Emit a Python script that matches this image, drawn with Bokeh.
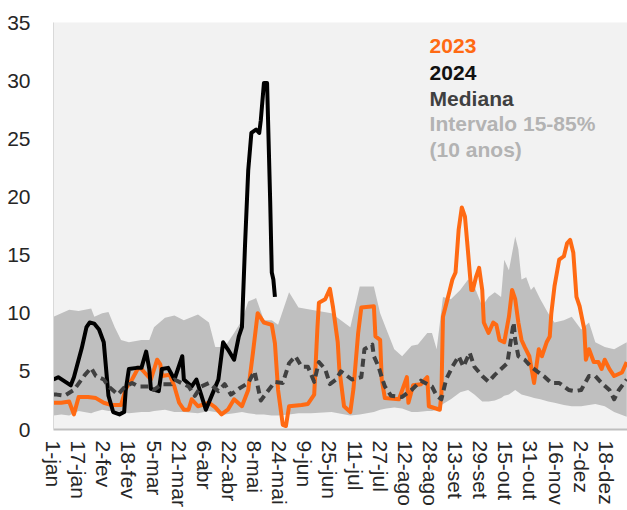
import math
from bokeh.plotting import figure
from bokeh.models import Range1d, FixedTicker, ColumnDataSource, Label
from bokeh.embed import file_html
from bokeh.resources import INLINE

# ---- data (day of year index, leap year: 0 = 1-jan) ----
tick_days = [0, 16, 32, 48, 64, 80, 96, 112, 128, 144, 160, 176, 192, 208,
             224, 240, 256, 272, 288, 304, 320, 336, 352]
tick_labels = ["1-jan", "17-jan", "2-fev", "18-fev", "5-mar", "21-mar", "6-abr",
               "22-abr", "8-mai", "24-mai", "9-jun", "25-jun", "11-jul", "27-jul",
               "12-ago", "28-ago", "13-set", "29-set", "15-out", "31-out",
               "16-nov", "2-dez", "18-dez"]

band_days = [0, 5, 10, 16, 24, 26, 31, 35, 39, 43, 48, 56, 61, 64, 71, 77, 83, 92,
             99, 103, 109, 115, 120, 124, 129, 134, 139, 143, 150, 156, 164, 177,
             189, 195, 204, 208, 212, 217, 222, 228, 232, 238, 241, 244, 248, 253,
             259, 264, 268, 273, 277, 281, 285, 287, 290, 294, 296, 298, 301, 304,
             306, 310, 315, 319, 325, 330, 336, 341, 345, 351, 357, 365]
band_hi = [9.7, 10.0, 10.3, 10.2, 10.4, 9.7, 10.0, 10.1, 8.8, 7.7, 7.5, 7.7, 7.7,
           8.8, 9.6, 9.8, 9.4, 9.9, 9.2, 7.1, 7.1, 8.3, 9.4, 11.0, 11.3, 9.4, 9.4,
           9.0, 11.8, 10.5, 10.3, 10.0, 8.8, 12.3, 12.3, 10.0, 8.6, 6.9, 6.3, 7.2,
           7.3, 8.3, 8.3, 6.9, 11.4, 11.2, 12.0, 12.9, 12.3, 10.6, 11.4, 11.8, 11.4,
           14.6, 13.7, 16.6, 15.5, 12.9, 13.1, 12.0, 12.3, 11.2, 10.0, 9.2, 9.4,
           9.7, 8.6, 9.2, 7.5, 7.1, 6.9, 7.5]
band_lo = [1.2, 1.3, 1.2, 1.6, 1.4, 1.5, 1.7, 1.6, 1.6, 1.5, 1.4, 1.5, 1.5, 1.6,
           1.7, 1.5, 1.5, 1.4, 1.6, 1.5, 1.3, 1.4, 1.5, 1.4, 1.3, 1.3, 1.2, 1.2,
           1.3, 1.4, 1.4, 1.5, 1.2, 1.3, 1.5, 1.7, 1.8, 1.9, 1.8, 1.5, 1.5, 1.6,
           1.6, 1.7, 2.2, 2.6, 3.2, 3.4, 3.0, 2.4, 2.4, 2.5, 2.7, 2.9, 3.0, 3.4,
           3.2, 3.0, 2.9, 2.8, 2.7, 2.6, 2.4, 2.3, 2.1, 2.0, 2.0, 2.1, 2.2, 2.0,
           1.5, 1.1]

d2023 = [0, 5, 10, 13, 16, 22, 27, 32, 37, 43, 46, 50, 54, 56, 62, 66, 68, 69, 74,
         77, 80, 83, 86, 88, 92, 99, 103, 107, 111, 115, 120, 124, 127, 130, 134,
         139, 141, 143, 146, 148, 150, 158, 162, 166, 168, 169, 173, 176, 178, 181,
         182, 185, 189, 191, 194, 196, 204, 205, 208, 209, 211, 220, 225, 226, 229,
         234, 238, 239, 246, 247, 248, 252, 254, 256, 258, 260, 262, 264, 266, 267,
         269, 271, 273, 274, 277, 280, 282, 284, 287, 290, 292, 294, 296, 298, 300,
         303, 306, 309, 311, 314, 316, 317, 319, 322, 325, 327, 329, 331, 333, 335,
         338, 339, 341, 344, 347, 349, 351, 354, 357, 362, 365]
v2023 = [2.3, 2.3, 2.4, 1.3, 2.8, 2.8, 2.7, 2.3, 2.1, 2.1, 3.5, 4.3, 5.3, 5.2, 4.3,
         6.0, 5.6, 4.6, 4.7, 3.7, 2.3, 1.7, 1.7, 2.6, 2.0, 2.3, 1.9, 1.3, 1.7, 2.6,
         2.0, 3.4, 6.6, 10.0, 9.2, 9.0, 7.4, 3.4, 0.4, 0.3, 2.0, 2.1, 2.2, 3.0, 8.6,
         10.9, 11.2, 12.1, 10.5, 7.5, 5.2, 2.0, 1.5, 3.5, 8.3, 10.5, 10.6, 8.0, 7.7,
         4.3, 2.7, 2.6, 4.5, 2.3, 3.8, 3.9, 4.5, 2.0, 1.7, 3.0, 9.7, 11.8, 12.9,
         13.5, 17.2, 19.1, 18.3, 15.2, 12.0, 12.0, 13.1, 13.9, 12.0, 9.2, 8.3, 9.2,
         9.0, 7.7, 7.5, 9.7, 12.0, 11.2, 9.2, 7.7, 7.1, 6.3, 4.0, 6.9, 6.3, 7.5, 8.0,
         10.0, 12.3, 14.6, 14.9, 16.0, 16.3, 15.2, 11.4, 10.6, 8.6, 6.0, 6.9, 5.8,
         5.8, 5.2, 6.0, 5.2, 4.6, 4.9, 5.8]

d2024 = [0, 3, 11, 13, 18, 21, 23, 26, 29, 32, 35, 38, 42, 45, 46, 48, 53, 56, 59,
         61, 62, 67, 69, 73, 77, 82, 83, 88, 91, 94, 97, 101, 105, 108, 111, 115,
         118, 120, 122, 124, 126, 129, 131, 132, 134, 136, 138, 139, 140, 141]
v2024 = [4.3, 4.5, 3.8, 4.5, 7.0, 8.8, 9.2, 9.1, 8.6, 7.5, 2.9, 1.5, 1.3, 1.5, 3.4,
         5.2, 5.3, 5.3, 6.7, 5.2, 3.5, 3.3, 5.2, 5.3, 4.3, 6.3, 4.3, 3.7, 4.3, 3.0,
         1.7, 3.0, 4.3, 7.5, 6.9, 6.0, 8.0, 8.8, 16.0, 22.3, 25.5, 25.8, 25.5, 26.6,
         29.8, 29.8, 19.5, 13.5, 12.9, 11.4]

dmed = [0, 2, 7, 13, 20, 24, 27, 32, 35, 41, 45, 50, 54, 61, 64, 69, 75, 77, 86,
        90, 94, 99, 105, 109, 113, 118, 124, 128, 132, 137, 141, 146, 150, 154, 158,
        162, 166, 169, 173, 176, 180, 183, 190, 196, 198, 203, 204, 207, 209, 211,
        215, 222, 228, 234, 241, 244, 247, 250, 254, 258, 261, 265, 268, 273, 277,
        281, 285, 289, 290, 293, 294, 296, 300, 304, 309, 313, 317, 322, 328, 332,
        336, 341, 345, 349, 354, 357, 360, 365]
vmed = [3.0, 3.0, 2.9, 3.4, 4.7, 5.3, 4.6, 4.3, 3.7, 3.0, 3.6, 4.0, 3.7, 3.7, 3.4,
        3.9, 3.9, 4.3, 3.7, 2.9, 3.7, 4.0, 3.3, 3.9, 3.0, 3.5, 4.0, 5.0, 2.5, 3.4,
        4.1, 4.0, 5.7, 6.3, 5.4, 5.4, 4.1, 5.8, 5.2, 3.9, 4.3, 5.0, 4.3, 4.5, 6.9,
        7.3, 6.3, 5.4, 4.5, 3.7, 2.9, 2.8, 3.4, 4.2, 3.7, 2.9, 2.6, 4.3, 5.4, 6.3,
        5.4, 6.6, 5.4, 4.6, 4.1, 4.7, 5.2, 5.7, 6.6, 9.2, 7.7, 6.3, 6.0, 5.4, 4.9,
        4.5, 4.0, 4.0, 3.4, 3.3, 3.4, 4.6, 4.6, 4.0, 3.4, 2.6, 3.4, 4.3]

legend_items = ["2023", "2024", "Mediana", "Intervalo 15-85%", "(10 anos)"]
legend_colors = ["#FF6A13", "#111111", "#404040", "#B3B3B3", "#B3B3B3"]
legend_y = [33.0, 30.7, 28.5, 26.3, 24.1]

# ---- figure ----
FONT = "Liberation Sans"
p = figure(width=627, height=510, output_backend="svg", toolbar_location=None,
           x_range=Range1d(0, 365.5), y_range=Range1d(0, 35),
           min_border_left=53, min_border_right=0, min_border_top=22,
           min_border_bottom=80)
p.background_fill_color = "#F2F2F2"
p.border_fill_color = "white"
p.outline_line_color = None
p.xgrid.grid_line_color = None
p.ygrid.grid_line_color = None

band = ColumnDataSource(dict(x=band_days, lo=band_lo, hi=band_hi))
p.varea(x="x", y1="lo", y2="hi", source=band, fill_color="#BFBFBF", fill_alpha=1.0)

p.line(d2023, v2023, line_color="#FF6A13", line_width=4, line_join="round")
p.line(d2024, v2024, line_color="#000000", line_width=4, line_join="round")
p.line(dmed, vmed, line_color="#404040", line_width=4, line_dash="8 5",
       line_join="round")

for txt, col, yy in zip(legend_items, legend_colors, legend_y):
    p.add_layout(Label(x=239.5, y=yy, text=txt, text_color=col,
                       text_font=FONT, text_font_size="21px",
                       text_font_style="bold", text_baseline="middle"))

# axes
p.xaxis.ticker = FixedTicker(ticks=tick_days)
p.xaxis.major_label_overrides = {d: l for d, l in zip(tick_days, tick_labels)}
p.xaxis.major_label_orientation = -math.pi / 2
p.xaxis.major_label_text_font = FONT
p.xaxis.major_label_text_font_size = "21px"
p.xaxis.major_label_text_color = "#262626"
p.xaxis.major_tick_line_color = None
p.xaxis.minor_tick_line_color = None
p.xaxis.axis_line_color = "#BFBFBF"
p.xaxis.axis_line_width = 2
p.xaxis.major_label_standoff = 5

p.yaxis.ticker = FixedTicker(ticks=[0, 5, 10, 15, 20, 25, 30, 35])
p.yaxis.major_label_text_font = FONT
p.yaxis.major_label_text_font_size = "21px"
p.yaxis.major_label_text_color = "#262626"
p.yaxis.major_tick_line_color = None
p.yaxis.minor_tick_line_color = None
p.yaxis.axis_line_color = "#D9D9D9"
p.yaxis.major_label_standoff = 17

open("out.html", "w").write(file_html(p, INLINE))
